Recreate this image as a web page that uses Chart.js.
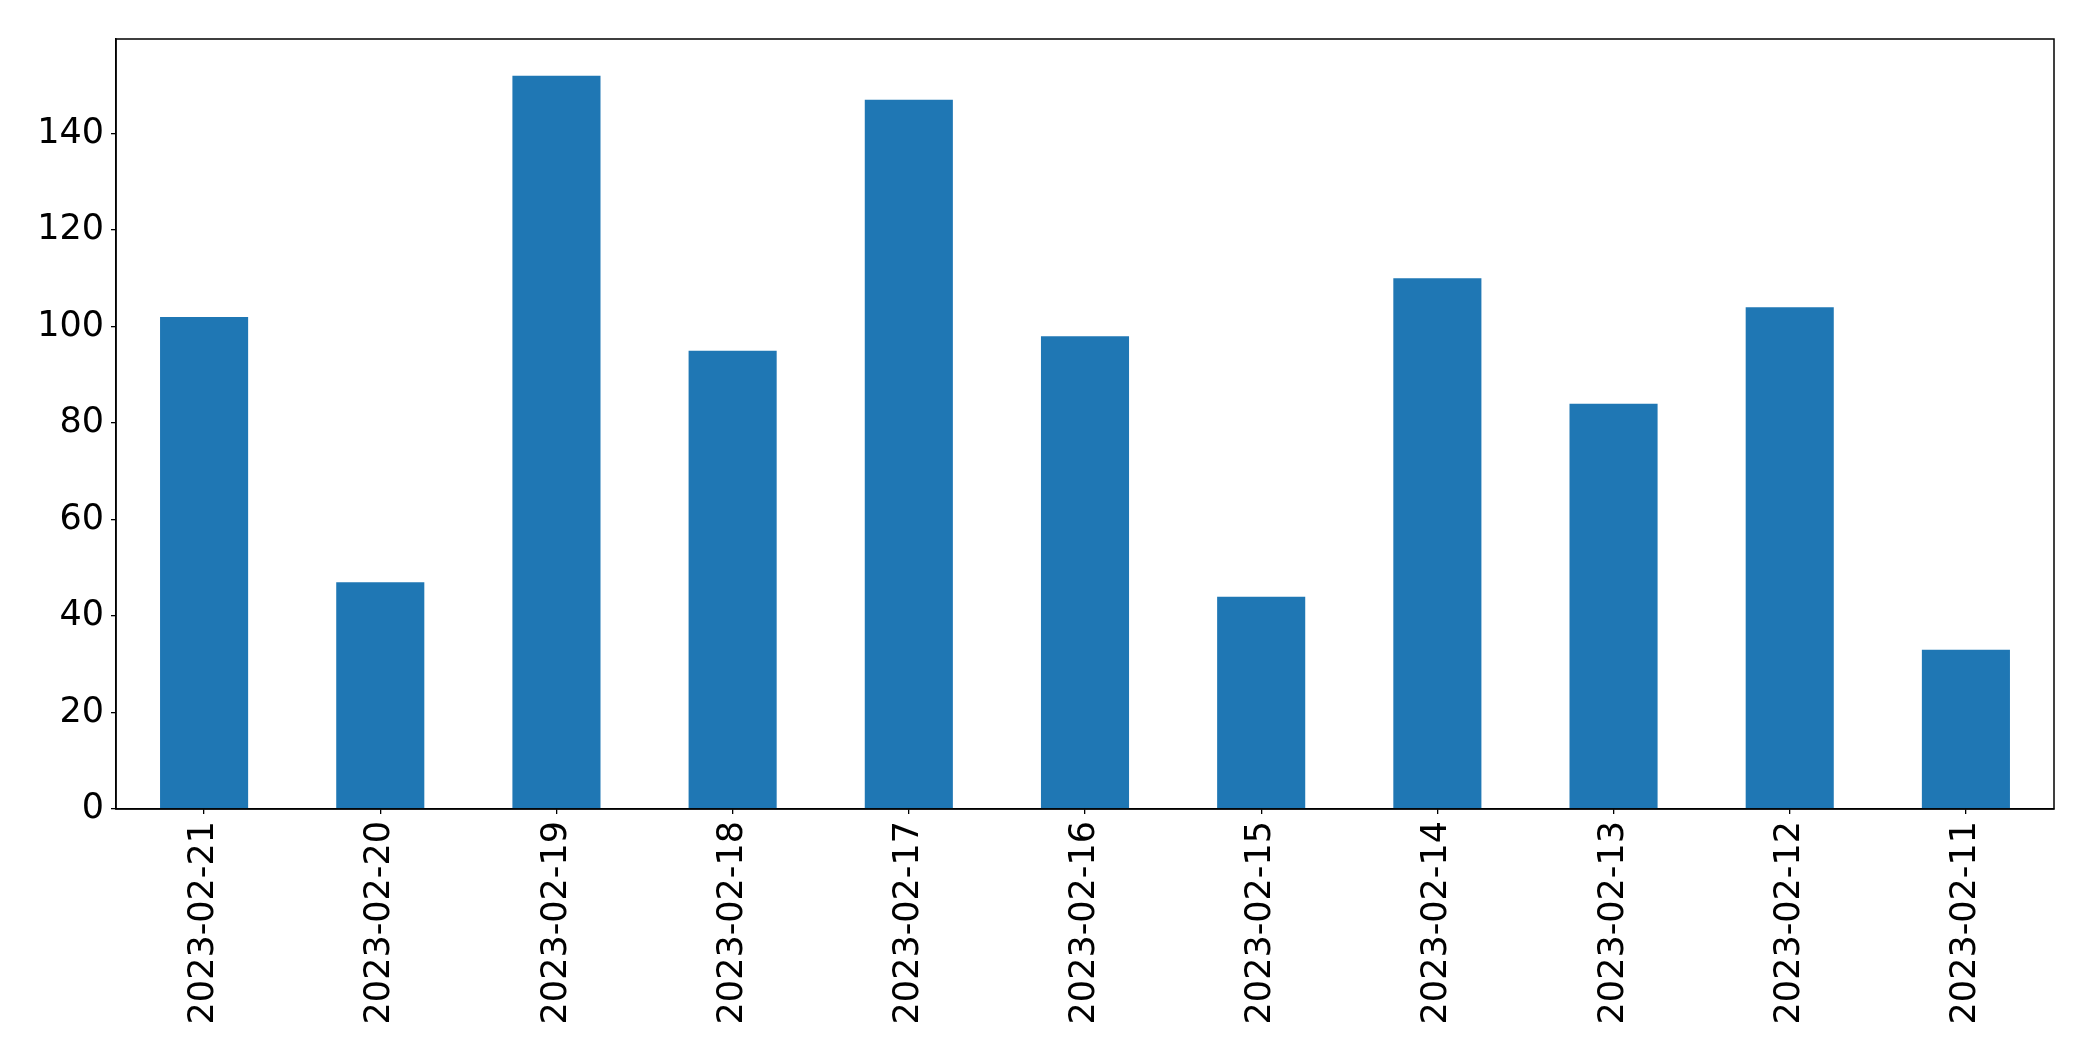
<!DOCTYPE html>
<html>
<head>
<meta charset="utf-8">
<script src="https://cdn.jsdelivr.net/npm/chart.js@4.4.0/dist/chart.umd.min.js"></script>
<style>
  html, body { margin: 0; padding: 0; background: #ffffff; }
  canvas { display: block; }
</style>
</head>
<body>
<canvas id="c" width="2093" height="1061"></canvas>
<script>
const categories = ["2023-02-21", "2023-02-20", "2023-02-19", "2023-02-18", "2023-02-17", "2023-02-16", "2023-02-15", "2023-02-14", "2023-02-13", "2023-02-12", "2023-02-11"];
const counts = [102, 47, 152, 95, 147, 98, 44, 110, 84, 104, 33];
const yTicks = [0, 20, 40, 60, 80, 100, 120, 140];
const yMax = 159.6;

const frame = {
  id: 'frame',
  afterDatasetsDraw(chart) {
    const a = chart.chartArea, ctx = chart.ctx;
    ctx.save();
    ctx.strokeStyle = '#000';
    ctx.lineWidth = 1.5;
    ctx.strokeRect(a.left, a.top, a.right - a.left, a.bottom - a.top);
    ctx.restore();
  }
};

new Chart(document.getElementById('c'), {
  type: 'bar',
  data: {
    labels: categories,
    datasets: [{
      data: counts,
      backgroundColor: '#1f77b4',
      borderWidth: 0,
      barPercentage: 0.5,
      categoryPercentage: 1.0
    }]
  },
  options: {
    responsive: false,
    devicePixelRatio: 1,
    animation: false,
    layout: { padding: { left: 0, right: 39, top: 39, bottom: 0 } },
    plugins: { legend: { display: false }, tooltip: { enabled: false } },
    scales: {
      x: {
        grid: { display: true, offset: false, drawOnChartArea: false, drawTicks: true, tickLength: 5, color: '#000', lineWidth: 1.3 },
        border: { display: true, color: '#000', width: 1.5 },
        ticks: {
          minRotation: 90, maxRotation: 90, autoSkip: false,
          color: '#000', padding: 7,
          font: { family: 'DejaVu Sans', size: 35 }
        },
        afterFit(scale) { scale.height = 252; }
      },
      y: {
        min: 0, max: yMax,
        grid: { display: true, drawOnChartArea: false, drawTicks: true, tickLength: 5, color: '#000', lineWidth: 1.3 },
        border: { display: true, color: '#000', width: 1.5 },
        ticks: {
          color: '#000', padding: 7,
          font: { family: 'DejaVu Sans', size: 35 }
        },
        afterBuildTicks(scale) { scale.ticks = yTicks.map(v => ({ value: v })); },
        afterFit(scale) { scale.width = 116; }
      }
    }
  },
  plugins: [frame]
});
</script>
</body>
</html>
